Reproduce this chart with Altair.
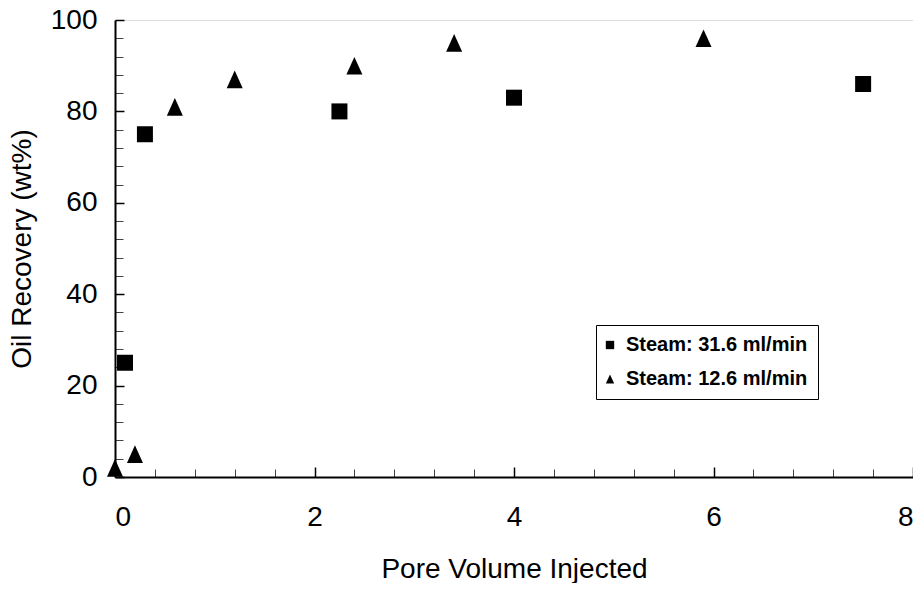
import altair as alt
import pandas as pd

# ---- data ----
labels = ["Steam: 31.6 ml/min", "Steam: 12.6 ml/min"]
x_fast = [0.1, 0.3, 2.25, 4.0, 7.5]
y_fast = [25, 75, 80, 83, 86]
x_slow = [0.0, 0.2, 0.6, 1.2, 2.4, 3.4, 5.9]
y_slow = [2, 5, 81, 87, 90, 95, 96]

x_major = [0, 2, 4, 6, 8]
x_minor = [0.4, 0.8, 1.2, 1.6, 2.4, 2.8, 3.2, 3.6, 4.4, 4.8, 5.2, 5.6, 6.4, 6.8, 7.2, 7.6]
y_major = [0, 20, 40, 60, 80, 100]
y_minor = [v for v in range(4, 100, 4) if v % 20 != 0]

df = pd.concat([
    pd.DataFrame({"pv": x_fast, "rec": y_fast, "series": labels[0]}),
    pd.DataFrame({"pv": x_slow, "rec": y_slow, "series": labels[1]}),
], ignore_index=True)

W, H = 798, 457
FONT = "Liberation Sans"
xs = alt.Scale(domain=[0, 8], nice=False, zero=False)
ys = alt.Scale(domain=[0, 100], nice=False, zero=False)

tri = "M0,-1.1L1,1.1L-1,1.1Z"

points = alt.Chart(df).mark_point(filled=True, opacity=1, size=256, color="black").encode(
    x=alt.X("pv:Q", scale=xs, axis=alt.Axis(
        orient="bottom", values=x_major, format="d", ticks=False, grid=False,
        domainColor="black", domainWidth=2, labelFontSize=28, labelFont=FONT,
        labelColor="black", labelPadding=26, title="Pore Volume Injected",
        titleFontSize=28, titleFont=FONT, titleFontWeight="normal",
        titleColor="black", titlePadding=24)),
    y=alt.Y("rec:Q", scale=ys, axis=alt.Axis(
        orient="left", values=y_major, format="d", ticks=False, grid=False,
        domainColor="black", domainWidth=2, labelFontSize=28, labelFont=FONT,
        labelColor="black", labelPadding=18, title="Oil Recovery (wt%)",
        titleFontSize=28, titleFont=FONT, titleFontWeight="normal",
        titleColor="black", titlePadding=14)),
    shape=alt.Shape("series:N", scale=alt.Scale(domain=labels, range=["square", tri]),
                    legend=alt.Legend(
                        title=None, orient="none", legendX=481, legendY=305,
                        labelFont=FONT, labelFontSize=20, labelFontWeight="bold",
                        labelColor="black", labelLimit=400, symbolSize=70,
                        symbolFillColor="black", symbolStrokeColor="black",
                        strokeColor="black", fillColor="white", padding=10,
                        rowPadding=14, labelOffset=6, symbolOffset=-6)),
)

def tick_layer(values, size, width, color, channel):
    base = alt.Chart(df).mark_point(opacity=0)
    if channel == "x":
        return base.encode(
            x=alt.X("pv:Q", scale=xs, axis=alt.Axis(
                orient="top", offset=-H, values=values, labels=False, domain=False,
                grid=False, ticks=True, tickSize=size, tickWidth=width,
                tickColor=color, title=None)),
            y=alt.Y("rec:Q", scale=ys, axis=None))
    return base.encode(
        x=alt.X("pv:Q", scale=xs, axis=None),
        y=alt.Y("rec:Q", scale=ys, axis=alt.Axis(
            orient="right", offset=-W, values=values, labels=False, domain=False,
            grid=False, ticks=True, tickSize=size, tickWidth=width,
            tickColor=color, title=None)))

chart = alt.layer(
    tick_layer(x_major, 10, 1.5, "black", "x"),
    tick_layer(x_minor, 8, 1, "#444444", "x"),
    tick_layer(y_major, 9, 1.5, "black", "y"),
    tick_layer(y_minor, 8, 1, "#444444", "y"),
    points,
).resolve_axis(x="independent", y="independent").properties(
    width=W, height=H,
    autosize=alt.AutoSizeParams(type="none"),
    padding={"left": 107, "top": 12, "right": 0, "bottom": 106},
).configure_view(stroke="#888888", strokeWidth=1).configure(background="white")

chart.save("out.html", embed_options={"renderer": "svg", "actions": False})
